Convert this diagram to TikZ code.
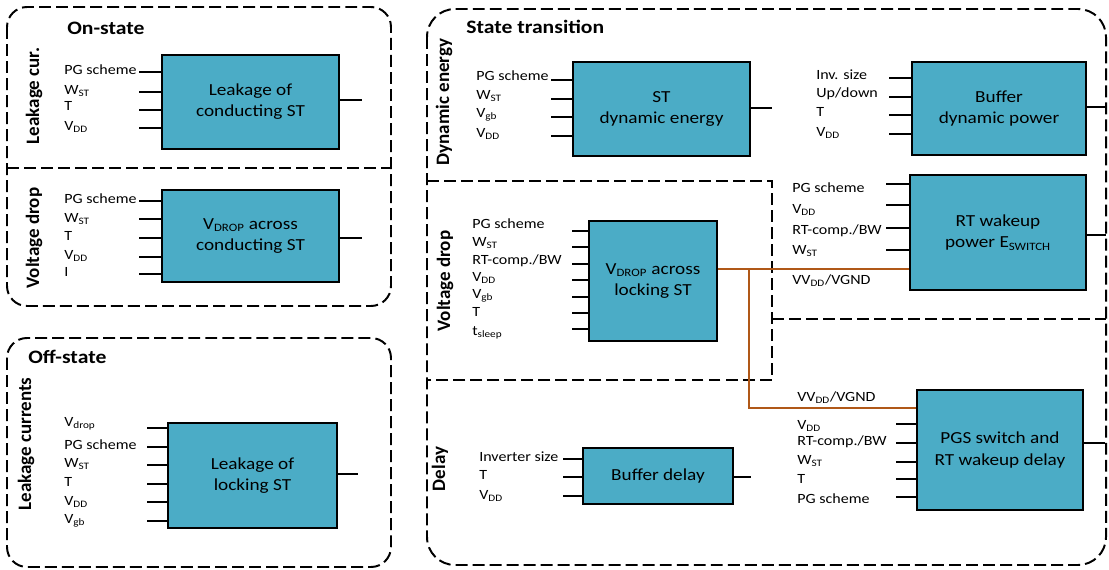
\documentclass[tikz,border=0pt]{standalone}
\usepackage{fontspec}
\setmainfont{Carlito}[FakeStretch=1.14]
\newfontfamily\sidefont{Carlito}
\usetikzlibrary{calc}
\definecolor{boxteal}{RGB}{75,172,198}
\definecolor{vvorange}{RGB}{176,88,24}
\tikzset{
    block/.style={draw,line width=1.8pt,fill=boxteal,align=center,inner sep=0pt,
    font=\fontsize{12}{15}\selectfont},
    inlabel/.style={anchor=west,inner sep=0pt,text height=6.4pt,text depth=0pt,
    font=\fontsize{10}{12}\selectfont},
    heading/.style={anchor=west,inner sep=0pt,font=\fontsize{13.5}{16}\selectfont\bfseries},
    sidelabel/.style={rotate=90,inner sep=0pt,font=\sidefont\fontsize{13.5}{16}\selectfont\bfseries},
    wire/.style={line width=1.4pt},
    region/.style={line width=1.4pt,dash pattern=on 8.5pt off 3.6pt},
    vvline/.style={line width=1.6pt,draw=vvorange}
}

\begin{document}
\begin{tikzpicture}[x=0.025cm,y=-0.025cm]
\useasboundingbox (0,0) rectangle (1109,570);

% regions
\draw[region,rounded corners=0.5cm] (7,7) rectangle (391,306);
\draw[region] (7,168) -- (391,168);
\draw[region,rounded corners=0.5cm] (7,338) rectangle (391,567);
\draw[region,rounded corners=0.7cm] (427,9) rectangle (1106,565);
\draw[region] (427,181) -- (772,181) -- (772,380) -- (427,380);
\draw[region] (772,319) -- (1106,319);

\node[heading] (on) at (67,28) {On-state};
\node[heading] (off) at (28,357) {Off-state};
\node[heading] (trans) at (466,27) {State transition};

\node[sidelabel] (s1) at (34,96) {Leakage cur.};
\node[sidelabel] (s2) at (34,238) {Voltage drop};
\node[sidelabel] (s3) at (26,444) {Leakage currents};
\node[sidelabel] (s4) at (444,102) {Dynamic energy};
\node[sidelabel] (s5) at (445,281) {Voltage drop};
\node[sidelabel] (s6) at (440,469) {Delay};

% blocks
\node[block,minimum width=4.425cm,minimum height=2.35cm] (lcon) at (250.5,102) {Leakage of\\conducting ST};
\node[block,minimum width=4.425cm,minimum height=2.3cm] (vcon) at (250.5,236) {V\textsubscript{DROP} across\\conducting ST};
\node[block,minimum width=4.225cm,minimum height=2.625cm] (llock) at (252.5,475.5) {Leakage of\\locking ST};
\node[block,minimum width=4.425cm,minimum height=2.35cm] (stdyn) at (661.5,109) {ST\\dynamic energy};
\node[block,minimum width=4.35cm,minimum height=2.325cm] (bufdyn) at (999,108.5) {Buffer\\dynamic power};
\node[block,minimum width=3.2cm,minimum height=3cm] (vlock) at (653,281) {V\textsubscript{DROP} across\\locking ST};
\node[block,minimum width=4.4cm,minimum height=2.875cm] (rtpow) at (998,232.5) {RT wakeup\\power E\textsubscript{SWITCH}};
\node[block,minimum width=4.15cm,minimum height=3cm] (pgs) at (1000,450) {PGS switch and\\RT wakeup delay};
\node[block,minimum width=3.75cm,minimum height=1.4cm] (bufdel) at (658,476) {Buffer delay};

% inputs
\node[inlabel] (lcon-l1) at (64,70) {PG scheme};
\node[inlabel] (lcon-l2) at (64,90) {W\textsubscript{ST}};
\node[inlabel] (lcon-l3) at (64,106) {T};
\node[inlabel] (lcon-l4) at (64,126) {V\textsubscript{DD}};
\foreach \y [count=\i] in {72,92,110,128}
  {\coordinate (lcon-in\i) at (139,\y); \draw[wire] (lcon-in\i) -- (lcon-in\i -| lcon.west);}

\node[inlabel] (vcon-l1) at (64,199) {PG scheme};
\node[inlabel] (vcon-l2) at (64,218) {W\textsubscript{ST}};
\node[inlabel] (vcon-l3) at (64,236) {T};
\node[inlabel] (vcon-l4) at (64,255) {V\textsubscript{DD}};
\node[inlabel] (vcon-l5) at (64,272) {I};
\foreach \y [count=\i] in {201,219,238,257,274}
  {\coordinate (vcon-in\i) at (139,\y); \draw[wire] (vcon-in\i) -- (vcon-in\i -| vcon.west);}

\node[inlabel] (llock-l1) at (64,422) {V\textsubscript{drop}};
\node[inlabel] (llock-l2) at (64,445) {PG scheme};
\node[inlabel] (llock-l3) at (64,463) {W\textsubscript{ST}};
\node[inlabel] (llock-l4) at (64,482) {T};
\node[inlabel] (llock-l5) at (64,501) {V\textsubscript{DD}};
\node[inlabel] (llock-l6) at (64,519) {V\textsubscript{gb}};
\foreach \y [count=\i] in {428,447,465,484,502,521}
  {\coordinate (llock-in\i) at (147,\y); \draw[wire] (llock-in\i) -- (llock-in\i -| llock.west);}

\node[inlabel] (stdyn-l1) at (476,76) {PG scheme};
\node[inlabel] (stdyn-l2) at (476,95) {W\textsubscript{ST}};
\node[inlabel] (stdyn-l3) at (476,113) {V\textsubscript{gb}};
\node[inlabel] (stdyn-l4) at (476,133) {V\textsubscript{DD}};
\foreach \y [count=\i] in {80,99,117,136}
  {\coordinate (stdyn-in\i) at (551,\y); \draw[wire] (stdyn-in\i) -- (stdyn-in\i -| stdyn.west);}

\node[inlabel] (bufdyn-l1) at (816,75) {Inv. size};
\node[inlabel] (bufdyn-l2) at (816,93) {Up/down};
\node[inlabel] (bufdyn-l3) at (816,112) {T};
\node[inlabel] (bufdyn-l4) at (816,132) {V\textsubscript{DD}};
\foreach \y [count=\i] in {78,97,115,134}
  {\coordinate (bufdyn-in\i) at (889,\y); \draw[wire] (bufdyn-in\i) -- (bufdyn-in\i -| bufdyn.west);}

\node[inlabel] (vlock-l1) at (472,224) {PG scheme};
\node[inlabel] (vlock-l2) at (472,242) {W\textsubscript{ST}};
\node[inlabel] (vlock-l3) at (472,260) {RT-comp./BW};
\node[inlabel] (vlock-l4) at (472,277) {V\textsubscript{DD}};
\node[inlabel] (vlock-l5) at (472,294) {V\textsubscript{gb}};
\node[inlabel] (vlock-l6) at (472,312) {T};
\node[inlabel] (vlock-l7) at (472,331) {t\textsubscript{sleep}};
\foreach \y [count=\i] in {231,247,264,280,297,313,329}
  {\coordinate (vlock-in\i) at (572,\y); \draw[wire] (vlock-in\i) -- (vlock-in\i -| vlock.west);}

\node[inlabel] (rtpow-l1) at (792,188) {PG scheme};
\node[inlabel] (rtpow-l2) at (792,209) {V\textsubscript{DD}};
\node[inlabel] (rtpow-l3) at (792,230) {RT-comp./BW};
\node[inlabel] (rtpow-l4) at (792,250) {W\textsubscript{ST}};
\node[inlabel] (rtpow-l5) at (792,280) {VV\textsubscript{DD}/VGND};
\foreach \y [count=\i] in {184,205,228,250}
  {\coordinate (rtpow-in\i) at (886,\y); \draw[wire] (rtpow-in\i) -- (rtpow-in\i -| rtpow.west);}

\node[inlabel] (pgs-l1) at (797,397) {VV\textsubscript{DD}/VGND};
\node[inlabel] (pgs-l2) at (797,425) {V\textsubscript{DD}};
\node[inlabel] (pgs-l3) at (797,441) {RT-comp./BW};
\node[inlabel] (pgs-l4) at (797,460) {W\textsubscript{ST}};
\node[inlabel] (pgs-l5) at (797,479) {T};
\node[inlabel] (pgs-l6) at (797,499) {PG scheme};
\foreach \y [count=\i] in {424,443,462,479,497}
  {\coordinate (pgs-in\i) at (896,\y); \draw[wire] (pgs-in\i) -- (pgs-in\i -| pgs.west);}

\node[inlabel] (bufdel-l1) at (479,457) {Inverter size};
\node[inlabel] (bufdel-l2) at (479,475) {T};
\node[inlabel] (bufdel-l3) at (479,495) {V\textsubscript{DD}};
\foreach \y [count=\i] in {459,477,496}
  {\coordinate (bufdel-in\i) at (563,\y); \draw[wire] (bufdel-in\i) -- (bufdel-in\i -| bufdel.west);}

% outputs
\coordinate (lcon-out) at (362,100);
\coordinate (vcon-out) at (362,238);
\coordinate (llock-out) at (358,474);
\coordinate (stdyn-out) at (772,108);
\coordinate (bufdyn-out) at (1106,107);
\coordinate (rtpow-out) at (1106,235);
\coordinate (pgs-out) at (1105,443);
\coordinate (bufdel-out) at (751,477);
\foreach \b in {lcon,vcon,llock,stdyn,bufdyn,rtpow,pgs,bufdel}
  \draw[wire] (\b.east |- \b-out) -- (\b-out);

% VV_DD/VGND
\coordinate (tap) at (749,269);
\coordinate (pgsvv) at (749,408);
\draw[vvline] (tap -| vlock.east) -- (tap -| rtpow.west);
\draw[vvline] (tap) -- (pgsvv) -- (pgsvv -| pgs.west);
\end{tikzpicture}
\end{document}
